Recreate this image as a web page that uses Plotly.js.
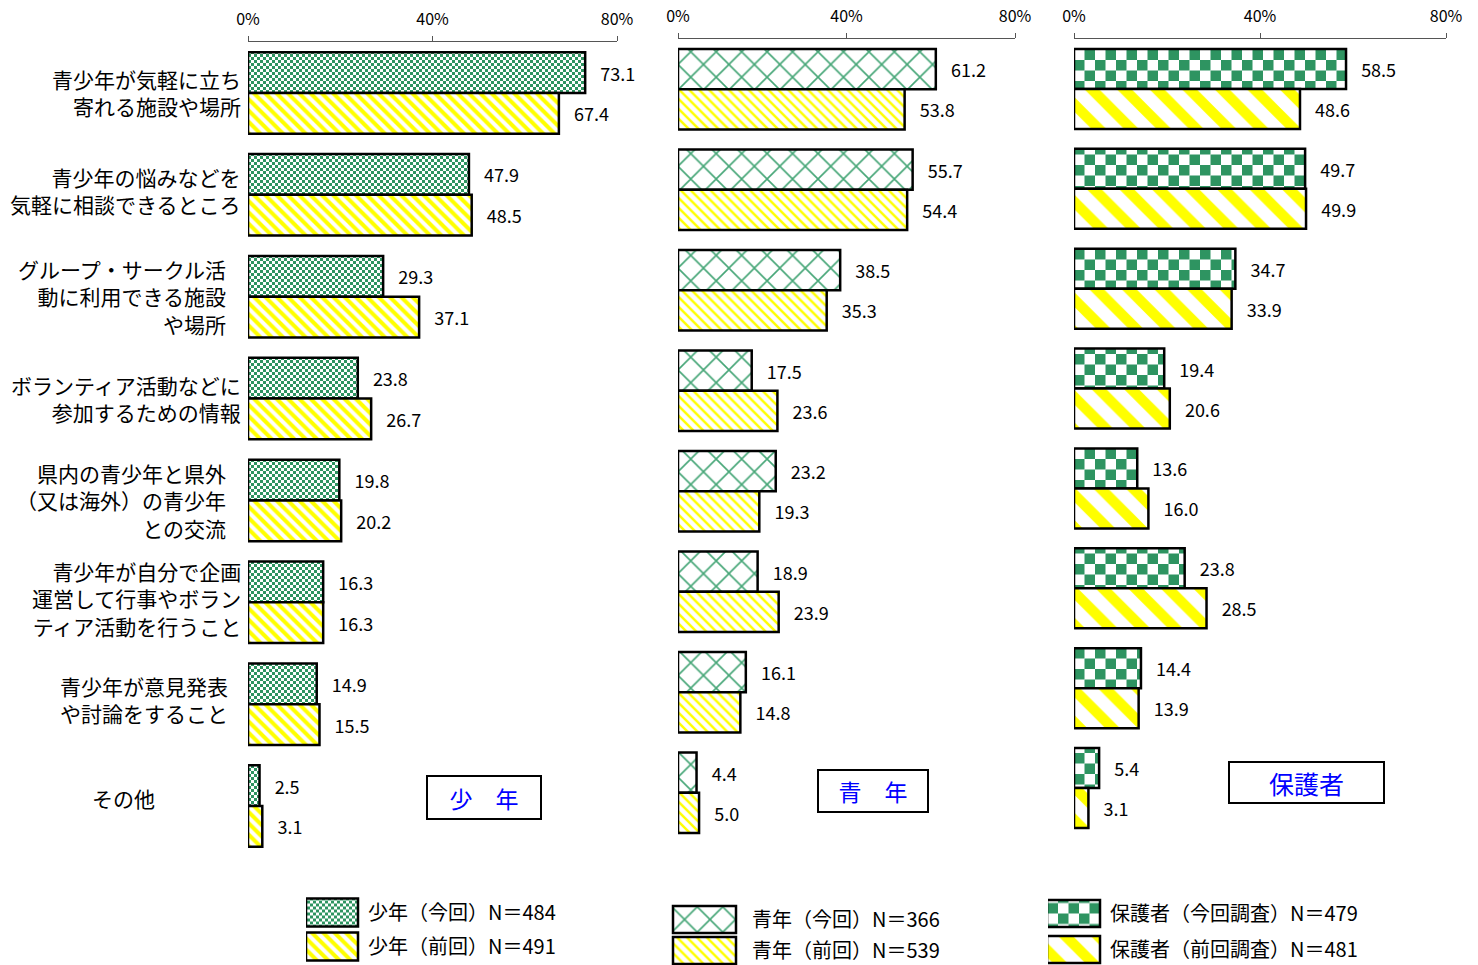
<!DOCTYPE html>
<html>
<head>
<meta charset="utf-8">
<script src="https://cdn.plot.ly/plotly-3.0.1.min.js"></script>
<style>
  html, body { margin: 0; padding: 0; background: #ffffff; }
  #chart { width: 1478px; height: 965px; }
</style>
</head>
<body>
<div id="chart"></div>
<script>
// Survey items (<br> marks how each label wraps)
const categories = [
  '青少年が気軽に立ち<br>寄れる施設や場所',
  '青少年の悩みなどを<br>気軽に相談できるところ',
  'グループ・サークル活<br>動に利用できる施設<br>や場所',
  'ボランティア活動などに<br>参加するための情報',
  '県内の青少年と県外<br>（又は海外）の青少年<br>との交流',
  '青少年が自分で企画<br>運営して行事やボラン<br>ティア活動を行うこと',
  '青少年が意見発表<br>や討論をすること',
  'その他'
];

// 少年 — current and previous survey, %
const shonenNow  = [73.1, 47.9, 29.3, 23.8, 19.8, 16.3, 14.9, 2.5];
const shonenPrev = [67.4, 48.5, 37.1, 26.7, 20.2, 16.3, 15.5, 3.1];

// 青年 — current and previous survey, %
const seinenNow  = [61.2, 55.7, 38.5, 17.5, 23.2, 18.9, 16.1, 4.4];
const seinenPrev = [53.8, 54.4, 35.3, 23.6, 19.3, 23.9, 14.8, 5.0];

// 保護者 — current and previous survey, %
const hogoshaNow  = [58.5, 49.7, 34.7, 19.4, 13.6, 23.8, 14.4, 5.4];
const hogoshaPrev = [48.6, 49.9, 33.9, 20.6, 16.0, 28.5, 13.9, 3.1];

// Series names shown in the legends
const seriesNames = [
  '少年（今回）N＝484', '少年（前回）N＝491',
  '青年（今回）N＝366', '青年（前回）N＝539',
  '保護者（今回調査）N＝479', '保護者（前回調査）N＝481'
];

// Panel captions
const panelTitles = ['少　年', '青　年', '保護者'];

// Axis ticks
const tickValues = [0, 40, 80];

// ---- styling ----
const GREEN = '#2E9461';
const GREEN_LIGHT = '#46A677';
const YELLOW = '#FFFF00';
const FONT = '"Noto Sans CJK JP", "Noto Sans", sans-serif';
const W = 1478, H = 965;

const patterns = [
  { shape: '.',  fgcolor: GREEN,       bgcolor: '#ffffff', size: 6,  solidity: 0.5,  fillmode: 'replace' },
  { shape: '\\', fgcolor: YELLOW,      bgcolor: '#ffffff', size: 8,  solidity: 0.5,  fillmode: 'replace' },
  { shape: 'x',  fgcolor: GREEN_LIGHT, bgcolor: '#ffffff', size: 18, solidity: 0.17, fillmode: 'replace' },
  { shape: '\\', fgcolor: YELLOW,      bgcolor: '#ffffff', size: 7,  solidity: 0.35, fillmode: 'replace' },
  { shape: '.',  fgcolor: GREEN,       bgcolor: '#ffffff', size: 21, solidity: 0.5,  fillmode: 'replace' },
  { shape: '\\', fgcolor: YELLOW,      bgcolor: '#ffffff', size: 23, solidity: 0.45, fillmode: 'replace' }
];

const seriesValues = [shonenNow, shonenPrev, seinenNow, seinenPrev, hogoshaNow, hogoshaPrev];
const axisSuffix = ['', '2', '3'];
const legendIds = ['legend', 'legend2', 'legend3'];

const data = seriesValues.map((vals, i) => {
  const panel = Math.floor(i / 2);
  return {
    type: 'bar',
    orientation: 'h',
    name: seriesNames[i],
    x: vals,
    y: categories,
    xaxis: 'x' + axisSuffix[panel],
    yaxis: 'y' + axisSuffix[panel],
    legend: legendIds[panel],
    legendgroup: 'g' + i,
    marker: {
      color: '#ffffff',
      line: { color: '#000000', width: 2.5 },
      pattern: patterns[i]
    },
    texttemplate: '\u00a0\u00a0\u00a0%{x:.1f}',
    textposition: 'outside',
    textfont: { family: FONT, size: 18, color: '#000000' },
    constraintext: 'none',
    cliponaxis: false,
    hoverinfo: 'skip'
  };
});

// Panel plot areas in pixels: [left, right, top, bottom]
const panelBoxes = [
  [248, 617, 42, 857],
  [678, 1015, 39, 843],
  [1074, 1446, 39, 838]
];

const layout = {
  width: W,
  height: H,
  margin: { l: 0, r: 0, t: 0, b: 0, autoexpand: false },
  paper_bgcolor: '#ffffff',
  plot_bgcolor: 'rgba(0,0,0,0)',
  barmode: 'group',
  bargap: 0.2,
  bargroupgap: 0,
  font: { family: FONT, color: '#000000' },
  showlegend: true,
  annotations: []
};

panelBoxes.forEach((b, p) => {
  const xa = 'xaxis' + axisSuffix[p];
  const ya = 'yaxis' + axisSuffix[p];
  layout[xa] = {
    domain: [b[0] / W, b[1] / W],
    anchor: 'y' + axisSuffix[p],
    side: 'top',
    range: [0, 80],
    tickvals: tickValues,
    ticktext: tickValues.map(v => v + '%'),
    ticks: 'outside',
    ticklen: 5,
    tickcolor: '#555555',
    showline: true,
    linecolor: '#555555',
    linewidth: 1,
    showgrid: false,
    zeroline: false,
    automargin: false,
    ticklabelstandoff: 5,
    tickfont: { family: FONT, size: 16, color: '#000000' },
    fixedrange: true
  };
  layout[ya] = {
    domain: [1 - b[3] / H, 1 - b[2] / H],
    anchor: 'x' + axisSuffix[p],
    type: 'category',
    categoryorder: 'array',
    categoryarray: categories,
    range: [categories.length - 0.5, -0.5],
    showticklabels: false,
    ticks: '',
    showline: false,
    showgrid: false,
    zeroline: false,
    automargin: false,
    fixedrange: true
  };
});

// Category labels to the left of the first panel
const labelRight = [243, 243, 228, 243, 228, 243, 230, null];
const labelShift = [0, 4, 0, 0, 0, 4, 5, 8];
categories.forEach((cat, c) => {
  const centred = labelRight[c] === null;
  layout.annotations.push({
    xref: 'paper', yref: 'y',
    x: centred ? 123 / W : labelRight[c] / W,
    y: cat,
    xanchor: centred ? 'center' : 'right',
    yanchor: 'middle',
    yshift: labelShift[c],
    align: centred ? 'center' : 'right',
    text: cat,
    showarrow: false,
    font: { family: FONT, size: 21, color: '#000000' }
  });
});

// Boxed panel captions: [centre x, centre y, width, height, font size]
const captionBoxes = [
  [484, 797, 112, 41, 23],
  [873, 791, 108, 40, 23],
  [1306, 782, 153, 39, 25]
];
captionBoxes.forEach((c, p) => {
  layout.annotations.push({
    xref: 'paper', yref: 'paper',
    x: c[0] / W, y: 1 - c[1] / H,
    xanchor: 'center', yanchor: 'middle',
    text: panelTitles[p],
    showarrow: false,
    width: c[2], height: c[3],
    bordercolor: '#000000', borderwidth: 2, borderpad: 0,
    bgcolor: '#ffffff',
    font: { family: FONT, size: c[4], color: '#0000FF' }
  });
});

// Legend blocks under each panel: [left x, top y, group gap, item width]
const legendPos = [[306, 893, 5, 52], [668, 900, 2, 74], [1048, 894, 7, 52]];
// Swatch rectangles per legend: [left px, right px, half height]
const swatchBox = [[306, 358, 14], [673, 736, 13.5], [1047, 1100, 13.5]];
legendPos.forEach((lp, p) => {
  layout[legendIds[p]] = {
    x: lp[0] / W, y: 1 - lp[1] / H,
    xanchor: 'left', yanchor: 'top',
    orientation: 'v',
    bgcolor: 'rgba(0,0,0,0)',
    borderwidth: 0,
    itemwidth: lp[3],
    tracegroupgap: lp[2],
    font: { family: FONT, size: 20, color: '#000000' }
  };
});

// Replace a dotted pattern tile with a checkerboard tile of the same period
function toChecker(pat) {
  const circle = pat.querySelector('circle');
  if (!circle) return;
  const color = circle.getAttribute('fill') || circle.style.fill || GREEN;
  const s = parseFloat(pat.getAttribute('width'));
  const h = s / 2;
  const NS = 'http://www.w3.org/2000/svg';
  while (pat.firstChild) pat.removeChild(pat.firstChild);
  const mk = (x, y, w, hh, fill) => {
    const r = document.createElementNS(NS, 'rect');
    r.setAttribute('x', x); r.setAttribute('y', y);
    r.setAttribute('width', w); r.setAttribute('height', hh);
    r.setAttribute('fill', fill);
    pat.appendChild(r);
  };
  mk(0, 0, s, s, '#ffffff');
  mk(0, 0, h, h, color);
  mk(h, h, h, h, color);
}

const traceIndex = el => {
  const d = el.__data__;
  return d && d[0] && d[0].trace ? d[0].trace.index : undefined;
};

Plotly.newPlot('chart', data, layout, { staticPlot: true, displayModeBar: false }).then(gd => {
  document.querySelectorAll('pattern').forEach(toChecker);

  // Legend swatches reuse the bars' own fills
  const fillByIndex = {};
  gd.querySelectorAll('g.trace.bars').forEach(g => {
    const idx = traceIndex(g);
    const p = g.querySelector('path');
    if (p && idx !== undefined) fillByIndex[idx] = p.style.fill;
  });

  // Larger legend swatches, placed per legend block
  legendIds.forEach((id, p) => {
    const centre = legendPos[p][0] + 5 + legendPos[p][3] / 2;
    const a = swatchBox[p][0] - centre, b = swatchBox[p][1] - centre, hh = swatchBox[p][2];
    gd.querySelectorAll('g.' + id + ' g.traces').forEach(item => {
      const path = item.querySelector('g.legendpoints path');
      if (!path) return;
      path.setAttribute('d', 'M' + b + ',' + hh + 'H' + a + 'V' + (-hh) + 'H' + b + 'Z');
      const f = fillByIndex[traceIndex(item)];
      if (f) path.style.fill = f;
    });
  });
});
</script>
</body>
</html>
